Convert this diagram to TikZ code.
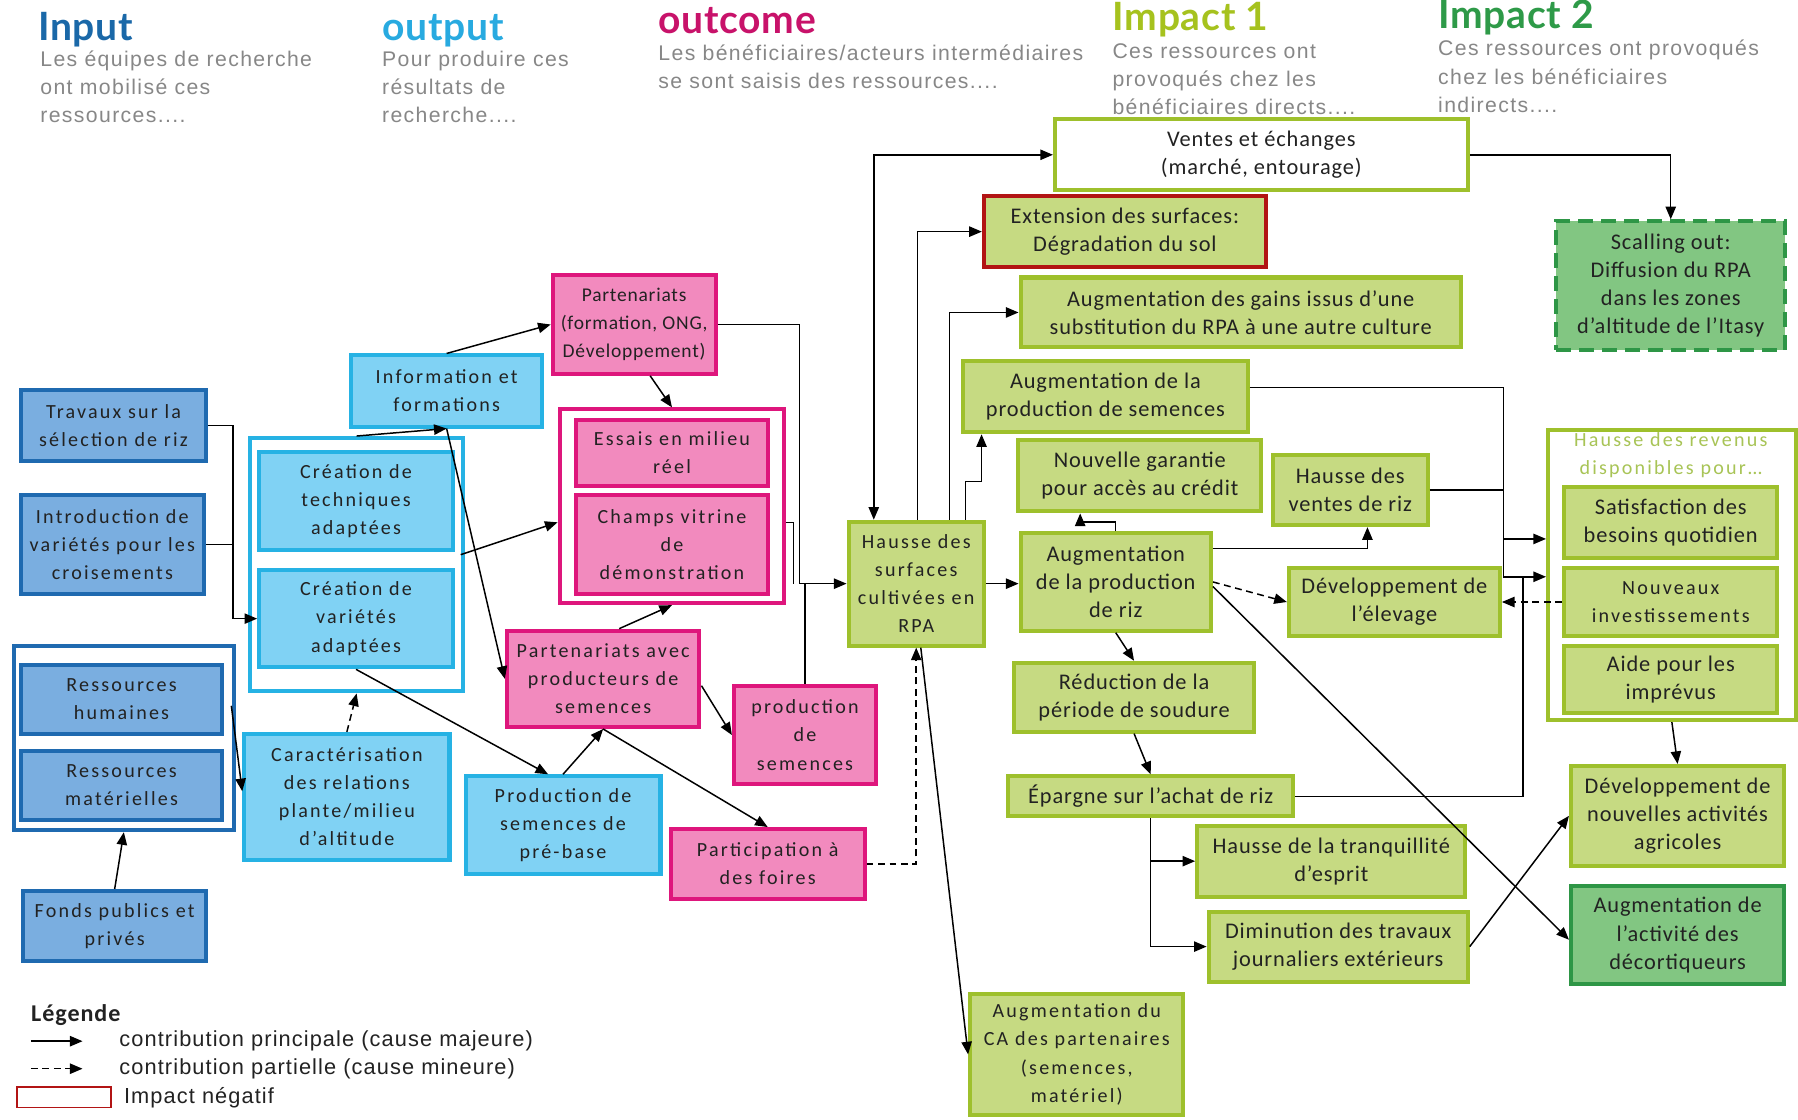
\documentclass[tikz,border=0pt]{standalone}
\usepackage{fontspec}
\setmainfont{Carlito}
\newfontfamily\widefont[LetterSpace=11]{Carlito}
\newfontfamily\midfont[LetterSpace=4]{Carlito}
\newfontfamily\plainfont[LetterSpace=4]{Carlito}
\newfontfamily\subfont[LetterSpace=6.5]{Liberation Sans}
\newfontfamily\legfont[LetterSpace=5]{Liberation Sans}
\newfontfamily\headfont[LetterSpace=2]{Lato}
\usetikzlibrary{arrows.meta,calc}

\definecolor{dbB}{RGB}{31,106,176}
\definecolor{dbF}{RGB}{122,174,224}
\definecolor{lbB}{RGB}{38,178,228}
\definecolor{lbF}{RGB}{128,210,244}
\definecolor{pkB}{RGB}{222,22,124}
\definecolor{pkF}{RGB}{242,138,190}
\definecolor{grB}{RGB}{158,192,44}
\definecolor{grF}{RGB}{198,218,130}
\definecolor{redB}{RGB}{178,20,20}
\definecolor{dgB}{RGB}{46,150,70}
\definecolor{dgF}{RGB}{130,198,130}
\definecolor{revT}{RGB}{168,196,86}
\definecolor{hIn}{RGB}{26,104,168}
\definecolor{hOut}{RGB}{40,170,224}
\definecolor{hOc}{RGB}{200,18,106}
\definecolor{hIa}{RGB}{166,194,30}
\definecolor{hIb}{RGB}{46,154,72}
\definecolor{subgray}{RGB}{135,135,135}
\definecolor{ink}{RGB}{34,34,34}

\tikzset{
  box/.style={draw, line width=3.5pt, align=center, inner sep=2pt, text=ink},
  sz/.style 2 args={minimum width=#1pt, minimum height=#2pt},
  widetext/.style={font=\widefont\fontsize{17.5}{24.5}\selectfont},
  plaintext/.style={font=\plainfont\fontsize{19.5}{24.5}\selectfont},
  dblue/.style={box, draw=dbB, fill=dbF, widetext},
  lblue/.style={box, draw=lbB, fill=lbF, widetext},
  pinkbox/.style={box, draw=pkB, fill=pkF, widetext},
  grbox/.style={box, draw=grB, fill=grF, plaintext},
  grwide/.style={box, draw=grB, fill=grF, widetext},
  frame/.style={draw, line width=3.5pt, fill=white, inner sep=0pt},
  head/.style={font=\headfont\bfseries\fontsize{34}{34}\selectfont, inner sep=0pt, anchor=base west},
  sub/.style={font=\subfont\fontsize{18.5}{24.5}\selectfont, text=subgray, align=left, inner sep=0pt, anchor=north west},
  legtext/.style={font=\legfont\fontsize{19}{24}\selectfont, text=ink, inner sep=0pt, anchor=west},
  link/.style={draw=black, line width=1.3pt},
  arr/.style={link, -{Triangle[length=11pt,width=9pt]}},
  arrboth/.style={link, {Triangle[length=11pt,width=9pt]}-{Triangle[length=11pt,width=9pt]}},
  minor/.style={dash pattern=on 6pt off 4pt},
}

\begin{document}
\begin{tikzpicture}[x=1pt,y=-1pt]
\fill[white] (0,0) rectangle (1568,976);
\useasboundingbox (0,0) rectangle (1568,976);

% ---------- column headings ----------
\node[head, text=hIn]  (hinput)   at (33,35)   {Input};
\node[head, text=hOut] (houtput)  at (333,35)  {output};
\node[head, text=hOc]  (houtcome) at (574,29)  {outcome};
\node[head, text=hIa]  (himpa)    at (970,27)  {Impact 1};
\node[head, text=hIb]  (himpb)    at (1254,25) {Impact 2};

\node[sub] (sinput)   at (35,44)   {Les équipes de recherche\\ont mobilisé ces\\ressources....};
\node[sub] (soutput)  at (333,44)  {Pour produire ces\\résultats de\\recherche....};
\node[sub] (soutcome) at (574,39)  {Les bénéficiaires/acteurs intermédiaires\\se sont saisis des ressources....};
\node[sub] (simpa)    at (970,38)  {Ces ressources ont\\provoqués chez les\\bénéficiaires directs....};
\node[sub] (simpb)    at (1254,35) {Ces ressources ont provoqués\\chez les bénéficiaires\\indirects....};

% ---------- input ----------
\node[dblue, sz={162}{62}] (trav)  at (99,371)   {Travaux sur la\\sélection de riz};
\node[dblue, sz={160}{86}] (intro) at (98,475)   {Introduction de\\variétés pour les\\croisements};
\node[frame, draw=dbB, sz={192}{161}] (resout) at (108,643.5) {};
\node[dblue, sz={176}{60}] (rh)    at (106,610)  {Ressources\\humaines};
\node[dblue, sz={176}{60}] (rm)    at (106,685)  {Ressources\\matérielles};
\node[dblue, sz={160}{61}] (fonds) at (100,807.5) {Fonds publics et\\privés};

% ---------- output ----------
\node[lblue, sz={167}{62}] (info) at (389.5,341) {Information et\\formations};
\node[frame, draw=lbB, sz={186}{221}] (creaout) at (311,492.5) {};
\node[lblue, sz={169}{86}] (tech) at (310.5,437) {Création de\\techniques\\adaptées};
\node[lblue, sz={169}{85}] (var)  at (310.5,539.5) {Création de\\variétés\\adaptées};
\node[lblue, sz={179}{110}] (carac) at (302.5,695) {Caractérisation\\des relations\\plante/milieu\\d’altitude};
\node[lblue, sz={170}{85}] (prebase) at (491,719.5) {Production de\\semences de\\pré-base};

% ---------- outcome ----------
\node[pinkbox, font=\midfont\fontsize{17}{24.5}\selectfont, sz={142}{86}] (partf) at (553,283) {Partenariats\\(formation, ONG,\\Développement)};
\node[frame, draw=pkB, sz={196}{169}] (essout) at (586,441.5) {};
\node[pinkbox, sz={168}{58}] (essais) at (586,395) {Essais en milieu\\réel};
\node[pinkbox, sz={168}{86}] (champs) at (586,475) {Champs vitrine\\de\\démonstration};
\node[pinkbox, sz={168}{84}] (partp)  at (526,592) {Partenariats avec\\producteurs de\\semences};
\node[pinkbox, sz={124}{86}] (prodsem) at (702,641) {production\\de\\semences};
\node[pinkbox, sz={169}{61}] (foires) at (669.5,753.5) {Participation à\\des foires};

% ---------- impact 1 ----------
\node[grbox, fill=white, sz={360}{62}] (ventes) at (1100,135) {Ventes et échanges\\(marché, entourage)};
\node[grbox, draw=redB, sz={246}{62}] (ext) at (981,202) {Extension des surfaces:\\Dégradation du sol};
\node[grbox, sz={384}{61}] (gains) at (1082,272.5) {Augmentation des gains issus d’une\\substitution du RPA à une autre culture};
\node[grbox, sz={248}{62}] (prodsemA) at (964,346) {Augmentation de la\\production de semences};
\node[grbox, sz={212}{62}] (garantie) at (994,415) {Nouvelle garantie\\pour accès au crédit};
\node[grbox, sz={135}{61}] (ventesriz) at (1177.5,427.5) {Hausse des\\ventes de riz};
\node[grwide, sz={118}{108}] (surfaces) at (799,509) {Hausse des\\surfaces\\cultivées en\\RPA};
\node[grbox, sz={166}{85}] (prodriz) at (973,507.5) {Augmentation\\de la production\\de riz};
\node[grbox, sz={184}{60}] (elevage) at (1216,525) {Développement de\\l’élevage};
\node[grbox, sz={210}{60}] (soudure) at (989,608) {Réduction de la\\période de soudure};
\node[grbox, sz={249}{35}] (epargne) at (1003.5,694.5) {Épargne sur l’achat de riz};
\node[grbox, sz={234}{62}] (tranq) at (1161,751) {Hausse de la tranquillité\\d’esprit};
\node[grbox, sz={226}{61}] (dimin) at (1167,825.5) {Diminution des travaux\\journaliers extérieurs};
\node[grwide, sz={186}{105}] (ca) at (939,919.5) {Augmentation du\\CA des partenaires\\(semences,\\matériel)};

% ---------- impact 2 ----------
\node[grbox, draw=dgB, fill=dgF, dash pattern=on 13pt off 7pt, sz={200}{112}] (scal) at (1457,249) {Scalling out:\\Diffusion du RPA\\dans les zones\\d’altitude de l’Itasy};
\node[frame, draw=grB, sz={216}{253}] (revout) at (1458,501.5) {};
\node[font=\widefont\fontsize{17.5}{24}\selectfont, text=revT, align=center, inner sep=0pt] (revtitle) at (1457,397) {Hausse des revenus\\disponibles pour…};
\node[grbox, sz={186}{62}] (satis) at (1457,456) {Satisfaction des\\besoins quotidien};
\node[grwide, sz={186}{60}] (nouv) at (1457,525) {Nouveaux\\investissements};
\node[grbox, sz={186}{59}] (aide) at (1457,592.5) {Aide pour les\\imprévus};
\node[grbox, sz={186}{87}] (nouvact) at (1463,711.5) {Développement de\\nouvelles activités\\agricoles};
\node[grbox, draw=dgB, fill=dgF, sz={186}{85}] (decort) at (1463,815.5) {Augmentation de\\l’activité des\\décortiqueurs};

% ---------- junction points of the orthogonal connectors ----------
\coordinate (j1) at (203,0);
\coordinate (j2) at (697,0);
\coordinate (k1) at (856,420);
\coordinate (v1) at (1311,0);
\coordinate (v2) at (1328,0);
\coordinate (h1) at (0,470);
\coordinate (h2) at (0,503);

% ---------- connectors: input / output ----------
\draw[arr]  (trav.east) -| (j1 |- var.west) -- (var.west);
\draw[link] (intro.east) -- (intro.east -| j1);
\draw[arr]  ([shift={(-4pt,28pt)}]resout.east) -- ([yshift=5pt]carac.west);
\draw[arr]  (fonds.north) -- (resout.south);
\draw[arr, minor] (carac.north) -- (creaout.south);
\draw[arr]  (creaout.north) -- (info.south);
\draw[arr]  (info.south) -- (partp.west);
\draw[arr]  (info.north) -- (partf.west);
\draw[arr]  ([shift={(5pt,-2pt)}]tech.south east) -- ([yshift=-14pt]essout.west);
\draw[arr]  (var.south) -- ([xshift=-13pt]prebase.north);
\draw[arr]  (prebase.north) -- (partp.south);

% ---------- connectors: outcome ----------
\draw[arr]  ([xshift=14pt]partf.south) -- (essout.north);
\draw[arr]  ([xshift=14pt]partp.north) -- (essout.south);
\draw[arr]  ([yshift=-6pt]partp.east) -- (prodsem.west);
\draw[arr]  (partp.south) -- (foires.north);
\draw[arr]  (partf.east) -| (j2 |- surfaces.west) -- (surfaces.west);
\draw[link] ([yshift=-14pt]essout.east) -| ($(j2 |- surfaces.west)+(-5,0)$);
\draw[link] (prodsem.north) -- (prodsem.north |- surfaces.west);
\draw[arr, minor] (foires.east) -| (surfaces.south);

% ---------- connectors: impact 1 ----------
\draw[arrboth] ([xshift=-37pt]surfaces.north) |- (ventes.west);
\draw[arr]  ([xshift=1pt]surfaces.north) |- (ext.west);
\draw[arr]  ([xshift=29pt]surfaces.north) |- (gains.west);
\draw[arr]  ([xshift=43pt]surfaces.north) |- (k1) -- (k1 |- prodsemA.south);
\draw[arr]  (surfaces.east) -- (surfaces.east -| prodriz.west);
\draw[arr]  ([xshift=4pt]surfaces.south) -- (ca.west);
\draw[arr]  (prodriz.north) -- ++(0,-8) -| ([xshift=-52pt]garantie.south);
\draw[arr]  ([yshift=29pt]prodriz.east) -| ([xshift=15pt]ventesriz.south);
\draw[arr, minor] (prodriz.east) -- (elevage.west);
\draw[arr]  ([yshift=-4pt]prodriz.east) -- ([yshift=-4pt]decort.west);
\draw[arr]  (prodriz.south) -- (soudure.north);
\draw[arr]  (soudure.south) -- (epargne.north);
\draw[arr]  (epargne.south) |- (dimin.west);
\draw[arr]  (epargne.south |- tranq.west) -- (tranq.west);

% ---------- connectors: towards impact 2 ----------
\draw[link] ([yshift=8pt]prodsemA.east) -| (v1 |- h2);
\draw[link] (ventesriz.east) -- (ventesriz.east -| v1);
\draw[arr]  (v1 |- h1) -- (h1 -| revout.west);
\draw[arr]  (v1 |- h2) -- (h2 -| revout.west);
\draw[link] (epargne.east) -| (v2 |- h2);
\draw[arr, minor] (nouv.west) -- (nouv.west -| elevage.east);
\draw[arr]  (ventes.east) -| (scal.north);
\draw[arr]  (revout.south) -- (nouvact.north);
\draw[arr]  (dimin.east) -- (nouvact.west);

% ---------- legend ----------
\node[font=\plainfont\bfseries\fontsize{21}{24}\selectfont, text=ink, inner sep=0pt, anchor=base west] (legtitle) at (27,891) {Légende};
\coordinate (la1) at (27,908);
\coordinate (la2) at (72,908);
\coordinate (lb1) at (27,932);
\coordinate (lb2) at (72,932);
\draw[arr] (la1) -- (la2);
\draw[arr, minor] (lb1) -- (lb2);
\node[legtext] (lta) at (104,908) {contribution principale (cause majeure)};
\node[legtext] (ltb) at (104,932) {contribution partielle (cause mineure)};
\node[draw=redB, line width=1.3pt, minimum width=82pt, minimum height=18pt, inner sep=0pt] (lbox) at (56,957) {};
\node[legtext] (ltc) at (108,957) {Impact négatif};
\end{tikzpicture}
\end{document}
